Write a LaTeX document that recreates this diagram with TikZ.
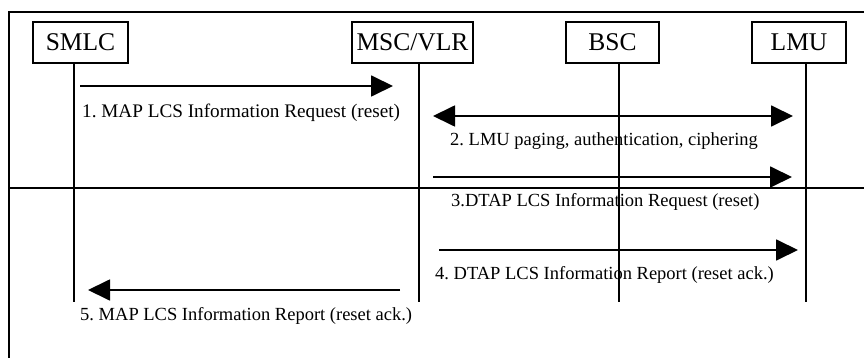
\documentclass[tikz,border=0pt]{standalone}
\usepackage{fontspec}
\setmainfont{Liberation Serif}
\usetikzlibrary{arrows.meta}
\frenchspacing
\begin{document}
\begin{tikzpicture}[x=1pt,y=-1pt,
  entity/.style={draw,line width=1.2pt,minimum height=41pt,inner sep=0pt,font=\fontsize{25.5}{28}\selectfont},
  life/.style={line width=1.3pt},
  msg/.style={line width=1.8pt,-{Triangle[length=22pt,width=21pt]}},
  dmsg/.style={line width=1.8pt,{Triangle[length=22pt,width=21pt]}-{Triangle[length=22pt,width=21pt]}},
  lbl/.style={anchor=base west,inner sep=0pt,font=\fontsize{18.5}{22}\selectfont\frenchspacing},
  frameline/.style={line width=2pt}]
\useasboundingbox (0,0) rectangle (864,358);
% frame
\coordinate (fTR) at (866,12);
\coordinate (fTL) at (9,12);
\coordinate (fBL) at (9,360);
\coordinate (dL) at (9,188);
\coordinate (dR) at (866,188);
\draw[frameline] (fTR) -- (fTL) -- (fBL);
\draw[frameline] (dL) -- (dR);
% entities
\node[entity,minimum width=95pt] (smlc) at (80.5,42.5) {SMLC};
\node[entity,minimum width=121pt] (msc) at (412.5,42.5) {MSC/VLR};
\node[entity,minimum width=93pt] (bsc) at (612.5,42.5) {BSC};
\node[entity,minimum width=94pt] (lmu) at (799,42.5) {LMU};
% lifelines
\coordinate (smlcT) at (74,63);  \coordinate (smlcB) at (74,302);
\coordinate (mscT) at (419,63);  \coordinate (mscB) at (419,302);
\coordinate (bscT) at (619,63);  \coordinate (bscB) at (619,302);
\coordinate (lmuT) at (806,63);  \coordinate (lmuB) at (806,302);
\draw[life] (smlcT) -- (smlcB);
\draw[life] (mscT) -- (mscB);
\draw[life] (bscT) -- (bscB);
\draw[life] (lmuT) -- (lmuB);
% messages
\coordinate (m1a) at (80,86);   \coordinate (m1b) at (393,86);
\coordinate (m2a) at (433,116); \coordinate (m2b) at (793,116);
\coordinate (m3a) at (433,177); \coordinate (m3b) at (792,177);
\coordinate (m4a) at (439,250); \coordinate (m4b) at (798,250);
\coordinate (m5a) at (400,290); \coordinate (m5b) at (88,290);
\draw[msg] (m1a) -- (m1b);
\draw[dmsg] (m2a) -- (m2b);
\draw[msg] (m3a) -- (m3b);
\draw[msg] (m4a) -- (m4b);
\draw[msg] (m5a) -- (m5b);
% labels
\node[lbl,font=\fontsize{19.2}{22}\selectfont] (l1) at (82,118) {1. MAP LCS Information Request (reset)};
\node[lbl] (l2) at (450,146) {2. LMU paging, authentication, ciphering};
\node[lbl] (l3) at (451,207) {3.DTAP LCS Information Request (reset)};
\node[lbl] (l4) at (435,279) {4. DTAP LCS Information Report (reset ack.)};
\node[lbl] (l5) at (80,320) {5. MAP LCS Information Report (reset ack.)};
\end{tikzpicture}
\end{document}
